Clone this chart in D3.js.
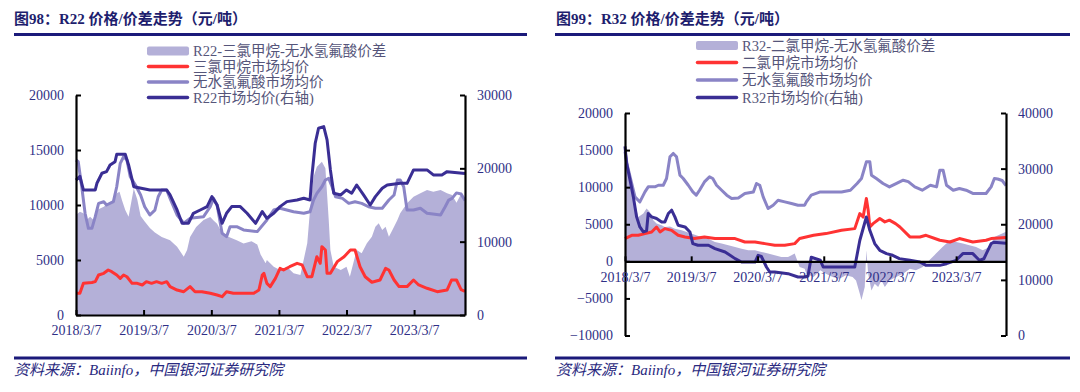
<!DOCTYPE html>
<html>
<head>
<meta charset="utf-8">
<script src="https://cdn.jsdelivr.net/npm/d3@7"></script>
<style>
	body { margin: 0; background: #fff; }
	svg text { font-family: "Liberation Serif", "Noto Sans CJK SC", serif; }
</style>
</head>
<body>
<svg id="chart" width="1080" height="392"></svg>
<script>
// ---- data ----

var dateStart = "2018-03-07";
var dateEnd = "2023-12-07";
var yearTicks = ["2018-03-07", "2019-03-07", "2020-03-07", "2021-03-07", "2022-03-07", "2023-03-07"];

// chart 98 : R22
var r22Titles = ["图98：R22 价格/价差走势（元/吨）"];
var r22Legend = ["R22-三氯甲烷-无水氢氟酸价差", "三氯甲烷市场均价", "无水氢氟酸市场均价", "R22市场均价(右轴)"];
var r22LeftTicks = [0, 5000, 10000, 15000, 20000];
var r22RightTicks = [0, 10000, 20000, 30000];

var r22Spread = [
	["2018-03-07", 9090], ["2018-03-28", 9390], ["2018-04-16", 9250], ["2018-05-04", 8640], ["2018-05-22", 8940],
	["2018-06-10", 8640], ["2018-06-28", 9540], ["2018-08-04", 9840], ["2018-08-28", 10150], ["2018-09-25", 10450],
	["2018-10-13", 11060], ["2018-10-28", 11210], ["2018-11-10", 10450], ["2018-11-28", 9540], ["2018-12-16", 8940],
	["2019-01-13", 11500], ["2019-02-01", 10500], ["2019-02-19", 9000], ["2019-03-13", 8500], ["2019-04-10", 7900],
	["2019-05-07", 7500], ["2019-06-13", 7100], ["2019-07-28", 6800], ["2019-09-04", 6200], ["2019-10-10", 5300],
	["2019-10-28", 5900], ["2019-11-13", 7100], ["2019-12-16", 8000], ["2020-01-25", 8640], ["2020-03-01", 8900],
	["2020-03-19", 8600], ["2020-04-07", 8300], ["2020-05-04", 7430], ["2020-06-10", 7100], ["2020-07-22", 6800],
	["2020-08-28", 6500], ["2020-10-10", 6700], ["2020-11-10", 6400], ["2020-11-28", 5500], ["2020-12-25", 4700],
	["2021-01-01", 5000], ["2021-02-07", 4390], ["2021-03-13", 4090], ["2021-04-19", 4390], ["2021-05-25", 3790],
	["2021-07-01", 3640], ["2021-08-07", 6520], ["2021-08-22", 9540], ["2021-09-10", 12570], ["2021-09-28", 13480],
	["2021-10-25", 13930], ["2021-11-13", 13330], ["2021-12-01", 8640], ["2021-12-10", 5910], ["2021-12-28", 4390],
	["2022-02-04", 4090], ["2022-03-07", 4390], ["2022-03-25", 3480], ["2022-05-01", 5910], ["2022-05-28", 5610],
	["2022-06-25", 6520], ["2022-07-22", 7120], ["2022-08-10", 8030], ["2022-08-28", 8340], ["2022-09-16", 7730],
	["2022-10-04", 8030], ["2022-10-22", 7120], ["2022-11-10", 7730], ["2022-12-07", 8640], ["2022-12-22", 9250],
	["2023-01-28", 10150], ["2023-03-04", 10750], ["2023-04-10", 11060], ["2023-05-16", 11360], ["2023-06-19", 11210],
	["2023-07-28", 11360], ["2023-09-01", 11060], ["2023-09-28", 10900], ["2023-10-22", 10200], ["2023-11-16", 11000],
	["2023-12-07", 10500]
];

var r22Chloroform = [
	["2018-03-07", 1970], ["2018-03-28", 1970], ["2018-04-16", 2880], ["2018-06-01", 2950], ["2018-06-19", 3030],
	["2018-07-07", 3640], ["2018-08-04", 3790], ["2018-08-28", 4090], ["2018-09-16", 3940], ["2018-10-13", 3640],
	["2018-11-01", 3330], ["2018-11-19", 3640], ["2018-12-07", 3480], ["2019-01-04", 2880], ["2019-02-01", 2880],
	["2019-02-28", 2730], ["2019-03-22", 3030], ["2019-04-19", 2880], ["2019-05-16", 3030], ["2019-06-13", 2880],
	["2019-07-10", 3030], ["2019-07-28", 2580], ["2019-09-04", 2270], ["2019-10-10", 2120], ["2019-11-13", 2580],
	["2019-12-10", 2120], ["2020-01-16", 2120], ["2020-03-01", 1970], ["2020-04-07", 1820], ["2020-05-04", 1670],
	["2020-05-28", 2120], ["2020-07-04", 1970], ["2020-08-28", 1970], ["2020-10-22", 1970], ["2020-11-19", 2270],
	["2020-12-07", 3640], ["2020-12-16", 3790], ["2021-01-01", 2880], ["2021-01-19", 2580], ["2021-02-16", 3330],
	["2021-03-13", 4240], ["2021-04-01", 4090], ["2021-05-04", 4390], ["2021-06-13", 4700], ["2021-07-10", 4550],
	["2021-08-07", 3480], ["2021-09-01", 3480], ["2021-09-28", 5300], ["2021-10-16", 4700], ["2021-10-25", 6210],
	["2021-11-13", 5910], ["2021-11-22", 3790], ["2021-12-10", 3790], ["2022-01-16", 4850], ["2022-02-22", 5300],
	["2022-03-28", 5910], ["2022-04-22", 5910], ["2022-05-19", 4390], ["2022-06-16", 3480], ["2022-07-22", 2980],
	["2022-09-04", 3180], ["2022-10-04", 4240], ["2022-10-22", 4090], ["2022-11-19", 3180], ["2022-12-16", 2580],
	["2023-01-28", 2580], ["2023-03-04", 3180], ["2023-04-01", 2730], ["2023-05-16", 2430], ["2023-07-10", 2120],
	["2023-09-01", 2270], ["2023-09-25", 3180], ["2023-10-22", 3180], ["2023-11-16", 2300], ["2023-12-07", 2150]
];

var r22Hf = [
	["2018-03-07", 14090], ["2018-03-19", 13930], ["2018-04-07", 11660], ["2018-04-25", 9250], ["2018-05-13", 7880],
	["2018-06-01", 7880], ["2018-06-19", 8940], ["2018-07-07", 10150], ["2018-08-04", 10300], ["2018-08-19", 10000],
	["2018-09-25", 10300], ["2018-10-13", 11660], ["2018-11-01", 13790], ["2018-11-19", 14390], ["2018-12-07", 14090],
	["2018-12-25", 12570], ["2019-01-22", 11820], ["2019-02-19", 10910], ["2019-03-13", 9840], ["2019-04-10", 9090],
	["2019-05-07", 9540], ["2019-05-25", 10750], ["2019-06-13", 11360], ["2019-07-10", 11360], ["2019-07-28", 10600],
	["2019-09-04", 9090], ["2019-10-10", 8340], ["2019-11-13", 8790], ["2020-01-25", 8940], ["2020-03-01", 9840],
	["2020-03-19", 10600], ["2020-04-07", 10000], ["2020-05-04", 7430], ["2020-05-28", 7120], ["2020-06-16", 8030],
	["2020-07-22", 8030], ["2020-08-28", 7730], ["2020-11-10", 7580], ["2021-01-01", 8640], ["2021-02-07", 9540],
	["2021-03-13", 9700], ["2021-05-25", 9390], ["2021-07-19", 9250], ["2021-08-22", 9390], ["2021-09-10", 10450],
	["2021-09-28", 11060], ["2021-10-25", 11660], ["2021-11-13", 12270], ["2021-12-01", 12420], ["2021-12-19", 11660],
	["2022-01-07", 10750], ["2022-02-13", 10600], ["2022-03-19", 10150], ["2022-04-22", 10300], ["2022-05-28", 10150],
	["2022-07-04", 9840], ["2022-08-10", 9700], ["2022-09-16", 9700], ["2022-10-22", 10450], ["2022-11-19", 10910],
	["2022-12-07", 12270], ["2022-12-22", 12270], ["2023-01-10", 11660], ["2023-01-28", 9540], ["2023-03-04", 9540],
	["2023-04-10", 9700], ["2023-05-16", 9250], ["2023-07-28", 9090], ["2023-08-22", 9840], ["2023-09-10", 10450],
	["2023-09-28", 10600], ["2023-10-22", 11100], ["2023-11-16", 11000], ["2023-12-07", 10400]
];

var r22Price = [
	["2018-03-07", 18400], ["2018-03-28", 18900], ["2018-04-16", 17050], ["2018-06-19", 17050], ["2018-06-28", 17960],
	["2018-07-25", 19330], ["2018-08-19", 19550], ["2018-09-07", 20460], ["2018-10-04", 20910], ["2018-10-13", 21920],
	["2018-11-28", 21920], ["2018-12-16", 20460], ["2019-01-13", 17500], ["2019-04-10", 17050], ["2019-07-10", 17050],
	["2019-07-28", 16370], ["2019-09-04", 14320], ["2019-10-01", 12500], ["2019-11-04", 12500], ["2019-12-01", 13870],
	["2020-01-07", 14320], ["2020-02-13", 14780], ["2020-03-10", 16140], ["2020-04-07", 15000], ["2020-05-04", 12500],
	["2020-05-28", 13870], ["2020-06-25", 14780], ["2020-08-10", 14780], ["2020-09-16", 13870], ["2020-11-01", 12500],
	["2020-12-07", 14100], ["2021-01-01", 13190], ["2021-02-07", 13870], ["2021-03-13", 14780], ["2021-04-19", 15460],
	["2021-06-13", 15690], ["2021-07-19", 15920], ["2021-08-22", 15690], ["2021-09-01", 18860], ["2021-09-19", 23420],
	["2021-10-07", 25470], ["2021-11-04", 25690], ["2021-11-22", 23870], ["2021-12-10", 19780], ["2021-12-28", 16600],
	["2022-02-04", 16370], ["2022-03-07", 17050], ["2022-04-04", 16600], ["2022-05-01", 17730], ["2022-06-07", 16370],
	["2022-07-13", 15000], ["2022-08-10", 16140], ["2022-09-16", 17280], ["2022-10-13", 17730], ["2022-12-22", 17960],
	["2023-01-28", 17960], ["2023-03-04", 19780], ["2023-05-16", 19780], ["2023-06-19", 19100], ["2023-08-04", 19100],
	["2023-09-01", 19550], ["2023-12-07", 19300]
];

// chart 99 : R32
var r32Titles = ["图99：R32 价格/价差走势（元/吨）"];
var r32Legend = ["R32-二氯甲烷-无水氢氟酸价差", "二氯甲烷市场均价", "无水氢氟酸市场均价", "R32市场均价(右轴)"];
var r32LeftTicks = [-10000, -5000, 0, 5000, 10000, 15000, 20000];
var r32RightTicks = [0, 10000, 20000, 30000, 40000];

var r32Spread = [
	["2018-03-07", 16500], ["2018-03-25", 12740], ["2018-04-13", 10500], ["2018-05-01", 7800], ["2018-05-19", 5990],
	["2018-06-16", 6440], ["2018-07-04", 7120], ["2018-07-22", 6660], ["2018-08-10", 5540], ["2018-08-28", 5090],
	["2018-09-25", 4860], ["2018-10-13", 4630], ["2018-11-10", 4700], ["2018-12-07", 4410], ["2019-01-13", 4180],
	["2019-02-10", 3960], ["2019-03-07", 3740], ["2019-04-04", 3510], ["2019-05-01", 3290], ["2019-06-07", 3070],
	["2019-07-16", 2610], ["2019-08-22", 2390], ["2019-09-28", 2160], ["2019-11-04", 1930], ["2019-12-10", 1700],
	["2020-01-16", 1490], ["2020-02-22", 1490], ["2020-03-28", 1270], ["2020-05-04", 1040], ["2020-06-10", 810],
	["2020-07-16", 580], ["2020-08-22", 580], ["2020-09-28", 1040], ["2020-10-25", -770], ["2020-11-22", -990],
	["2020-12-01", -1660], ["2021-01-10", -2120], ["2021-02-16", -1200], ["2021-03-19", -1660], ["2021-04-25", -2120],
	["2021-06-01", -2340], ["2021-07-07", -1890], ["2021-08-13", -2120], ["2021-09-01", -2570], ["2021-09-22", -4360],
	["2021-10-01", -5200], ["2021-10-19", -3470], ["2021-10-28", 1490], ["2021-11-07", -1660], ["2021-11-25", -3920],
	["2021-12-13", -3020], ["2022-01-01", -3470], ["2022-01-19", -2570], ["2022-02-07", -3470], ["2022-03-04", -2570],
	["2022-04-10", -2120], ["2022-05-19", -1660], ["2022-06-25", -1000], ["2022-07-28", -1200], ["2022-09-04", -770],
	["2022-10-10", 135], ["2022-11-16", 1040], ["2022-12-22", 1930], ["2023-02-01", 2840], ["2023-03-07", 2610],
	["2023-04-13", 2390], ["2023-05-19", 2160], ["2023-06-25", 1930], ["2023-08-01", 1490], ["2023-09-07", 1930],
	["2023-10-04", 3290], ["2023-12-07", 4000]
];

var r32Dcm = [
	["2018-03-07", 3070], ["2018-04-13", 3510], ["2018-05-19", 3510], ["2018-06-25", 3740], ["2018-08-01", 3960],
	["2018-08-28", 4630], ["2018-09-16", 3960], ["2018-10-13", 4410], ["2018-11-19", 4180], ["2018-12-25", 3510],
	["2019-02-01", 3290], ["2019-03-25", 3070], ["2019-05-19", 3290], ["2019-07-16", 3070], ["2019-11-04", 3070],
	["2019-12-28", 2610], ["2020-02-22", 2610], ["2020-04-16", 2390], ["2020-06-10", 2160], ["2020-08-04", 2160],
	["2020-09-28", 2390], ["2020-10-25", 3070], ["2021-01-10", 3510], ["2021-03-19", 3740], ["2021-06-13", 4190],
	["2021-08-25", 4410], ["2021-09-22", 6440], ["2021-10-10", 5970], ["2021-10-28", 8470], ["2021-11-07", 6890],
	["2021-11-16", 4630], ["2021-12-04", 5080], ["2022-01-10", 5770], ["2022-02-07", 5320], ["2022-03-04", 5550],
	["2022-04-07", 5080], ["2022-05-01", 4630], ["2022-06-25", 3290], ["2022-08-19", 3290], ["2022-09-22", 3510],
	["2022-12-07", 2840], ["2023-02-01", 2610], ["2023-03-25", 3070], ["2023-06-07", 2610], ["2023-08-19", 2840],
	["2023-09-16", 3070], ["2023-12-07", 3200]
];

var r32Hf = [
	["2018-03-07", 14800], ["2018-03-19", 13000], ["2018-05-01", 8690], ["2018-05-28", 8010], ["2018-06-25", 9360],
	["2018-07-13", 10040], ["2018-08-19", 10040], ["2018-09-07", 10260], ["2018-10-04", 10260], ["2018-10-22", 11170],
	["2018-11-10", 14090], ["2018-11-28", 14550], ["2018-12-16", 14090], ["2019-01-04", 11620], ["2019-01-22", 11170],
	["2019-02-19", 10260], ["2019-03-16", 9360], ["2019-04-04", 8920], ["2019-04-22", 9590], ["2019-05-19", 10710],
	["2019-06-16", 11390], ["2019-07-04", 11170], ["2019-07-25", 10260], ["2019-08-22", 9590], ["2019-09-19", 8920],
	["2019-10-16", 8470], ["2019-11-22", 8550], ["2019-12-28", 9150], ["2020-02-13", 9360], ["2020-03-01", 10490],
	["2020-03-19", 10260], ["2020-04-07", 8690], ["2020-05-04", 7120], ["2020-06-01", 7570], ["2020-06-28", 8240],
	["2020-08-04", 8020], ["2020-09-10", 7790], ["2020-10-16", 7570], ["2020-11-22", 7570], ["2020-12-01", 8010],
	["2020-12-28", 8920], ["2021-02-16", 9360], ["2021-06-13", 9360], ["2021-08-01", 9590], ["2021-09-07", 10490],
	["2021-10-01", 11170], ["2021-10-28", 13420], ["2021-11-16", 13420], ["2021-11-25", 11620], ["2021-12-22", 11170],
	["2022-01-28", 10490], ["2022-03-04", 10040], ["2022-04-10", 10490], ["2022-05-19", 10940], ["2022-06-16", 10750],
	["2022-07-22", 10040], ["2022-09-01", 9590], ["2022-10-16", 10260], ["2022-11-19", 10040], ["2022-12-07", 12290],
	["2022-12-25", 12290], ["2023-01-13", 10260], ["2023-02-19", 9590], ["2023-03-25", 9820], ["2023-05-01", 9590],
	["2023-06-07", 9150], ["2023-08-19", 9150], ["2023-09-16", 10040], ["2023-10-04", 11170], ["2023-10-22", 11100],
	["2023-11-16", 10900], ["2023-12-07", 10200]
];

var r32Price = [
	["2018-03-07", 34000], ["2018-03-16", 30940], ["2018-04-04", 27930], ["2018-04-22", 24920], ["2018-05-10", 21320],
	["2018-05-28", 19520], ["2018-06-16", 18620], ["2018-07-04", 18800], ["2018-07-13", 21930], ["2018-08-01", 21320],
	["2018-08-28", 21030], ["2018-09-25", 20420], ["2018-10-13", 20420], ["2018-11-01", 21930], ["2018-11-19", 22530],
	["2018-12-07", 21320], ["2018-12-25", 19820], ["2019-02-01", 19520], ["2019-02-28", 18620], ["2019-03-16", 16520],
	["2019-04-13", 16220], ["2019-06-10", 16220], ["2019-07-16", 15620], ["2019-09-10", 15020], ["2019-11-04", 13820],
	["2019-12-10", 13210], ["2020-02-22", 13210], ["2020-03-10", 14420], ["2020-03-28", 14200], ["2020-04-25", 12310],
	["2020-05-13", 11410], ["2020-06-10", 11410], ["2020-08-22", 11110], ["2020-10-16", 10510], ["2020-11-22", 10510],
	["2020-12-10", 10700], ["2020-12-28", 14070], ["2021-02-16", 13520], ["2021-03-04", 12310], ["2021-08-25", 12310],
	["2021-09-22", 17120], ["2021-10-28", 21300], ["2021-11-16", 18920], ["2021-12-13", 16520], ["2022-01-10", 15320],
	["2022-02-16", 14720], ["2022-03-22", 14420], ["2022-04-28", 13820], ["2022-06-25", 13520], ["2022-08-19", 13210],
	["2022-09-22", 12610], ["2022-12-07", 12610], ["2023-01-13", 12910], ["2023-03-07", 13520], ["2023-04-13", 14720],
	["2023-06-07", 14720], ["2023-07-13", 13520], ["2023-08-07", 13800], ["2023-09-16", 16520], ["2023-10-01", 16760],
	["2023-12-07", 16580]
];

// ---- styling ----
var colors = {
	spread: "#b4b0d8",
	red: "#ff3333",
	hf: "#8a84c6",
	price: "#3a2e94",
	rule: "#1b1a7a",
	title: "#1e1e6e",
	tick: "#2f2f86",
	legend: "#55557a",
	footer: "#2a2a80"
};

var parseDate = d3.timeParse("%Y-%m-%d");
var fmtDate = d3.timeFormat("%Y/%-m/%-d");
var svg = d3.select("#chart");

function toPoints(arr) {
	return arr.map(function(d) { return { date: parseDate(d[0]), value: d[1] }; });
}

function drawPanel(p) {
	var g = svg.append("g");

	var x = d3.scaleTime()
		.domain([parseDate(dateStart), parseDate(dateEnd)])
		.range([p.x0, p.x1]);
	var yL = d3.scaleLinear().domain(p.leftDomain).range([p.yBottom, p.yTop]);
	var yR = d3.scaleLinear().domain(p.rightDomain).range([p.yBottom, p.yTop]);

	// title and rules
	g.append("text")
		.attr("x", p.titleX).attr("y", 23.5)
		.attr("font-size", 15).attr("font-weight", "bold")
		.attr("fill", colors.title)
		.text(p.title);
	g.append("line")
		.attr("x1", p.ruleX0).attr("x2", p.ruleX1).attr("y1", 34.5).attr("y2", 34.5)
		.attr("stroke", colors.rule).attr("stroke-width", 3);
	g.append("line")
		.attr("x1", p.ruleX0).attr("x2", p.ruleX1).attr("y1", 358).attr("y2", 358)
		.attr("stroke", colors.rule).attr("stroke-width", 3);
	g.append("text")
		.attr("x", p.titleX).attr("y", 375)
		.attr("font-size", 15).attr("font-style", "italic")
		.attr("fill", colors.footer)
		.text("资料来源：Baiinfo，中国银河证券研究院");

	// spread area (left axis)
	var area = d3.area()
		.x(function(d) { return x(d.date); })
		.y0(yL(0))
		.y1(function(d) { return yL(d.value); });
	g.append("path").datum(toPoints(p.spread))
		.attr("d", area).attr("fill", colors.spread);

	// lines
	var lineL = d3.line()
		.x(function(d) { return x(d.date); })
		.y(function(d) { return yL(d.value); });
	var lineR = d3.line()
		.x(function(d) { return x(d.date); })
		.y(function(d) { return yR(d.value); });

	g.append("path").datum(toPoints(p.red))
		.attr("d", lineL).attr("fill", "none")
		.attr("stroke", colors.red).attr("stroke-width", 3).attr("stroke-linejoin", "round");
	g.append("path").datum(toPoints(p.hf))
		.attr("d", lineL).attr("fill", "none")
		.attr("stroke", colors.hf).attr("stroke-width", 3).attr("stroke-linejoin", "round");
	g.append("path").datum(toPoints(p.price))
		.attr("d", lineR).attr("fill", "none")
		.attr("stroke", colors.price).attr("stroke-width", 3).attr("stroke-linejoin", "round");

	// axes
	var axisLeft = d3.axisLeft(yL).tickValues(p.leftTicks)
		.tickSizeInner(-5).tickSizeOuter(0).tickPadding(12).tickFormat(d3.format("d"));
	var axisRight = d3.axisRight(yR).tickValues(p.rightTicks)
		.tickSizeInner(-5).tickSizeOuter(0).tickPadding(12).tickFormat(d3.format("d"));
	var axisBottom = d3.axisBottom(x).tickValues(yearTicks.map(parseDate))
		.tickSizeInner(-5).tickSizeOuter(0).tickPadding(p.xLabelPad).tickFormat(fmtDate);

	var gl = g.append("g").attr("transform", "translate(" + p.x0 + ",0)").call(axisLeft);
	var gr = g.append("g").attr("transform", "translate(" + p.x1 + ",0)").call(axisRight);
	var gb = g.append("g").attr("transform", "translate(0," + yL(0) + ")").call(axisBottom);

	[gl, gr, gb].forEach(function(a) {
		a.attr("font-family", null).attr("font-size", null);
		a.select(".domain").attr("stroke", "#000").attr("stroke-width", 2.2);
		a.selectAll(".tick line").attr("stroke", "#000").attr("stroke-width", 2);
		a.selectAll(".tick text").attr("fill", colors.tick).attr("font-size", 14);
	});

	// legend
	var lg = g.append("g");
	p.legend.forEach(function(label, i) {
		var cy = p.legendY[i];
		if (i === 0) {
			lg.append("rect")
				.attr("x", p.legendX).attr("y", cy - 4.5)
				.attr("width", 42).attr("height", 9).attr("rx", 2)
				.attr("fill", colors.spread);
		} else {
			lg.append("line")
				.attr("x1", p.legendX + 1.5).attr("x2", p.legendX + 40.5)
				.attr("y1", cy).attr("y2", cy)
				.attr("stroke", [null, colors.red, colors.hf, colors.price][i])
				.attr("stroke-width", 3.5).attr("stroke-linecap", "round");
		}
		lg.append("text")
			.attr("x", p.legendX + 46).attr("y", cy).attr("dy", "0.36em")
			.attr("font-size", 14.5).attr("fill", colors.legend)
			.text(label);
	});
}

// R22 panel
drawPanel({
	title: r22Titles[0],
	titleX: 14, ruleX0: 14, ruleX1: 527,
	x0: 76, x1: 465, yTop: 95, yBottom: 315,
	leftDomain: [0, 20000], rightDomain: [0, 30000],
	leftTicks: r22LeftTicks, rightTicks: r22RightTicks,
	xLabelPad: 10,
	spread: r22Spread, red: r22Chloroform, hf: r22Hf, price: r22Price,
	legend: r22Legend, legendX: 147, legendY: [51, 66.5, 82, 97.5]
});

// R32 panel
drawPanel({
	title: r32Titles[0],
	titleX: 556, ruleX0: 555, ruleX1: 1070,
	x0: 625, x1: 1006, yTop: 113, yBottom: 335.5,
	leftDomain: [-10000, 20000], rightDomain: [0, 40000],
	leftTicks: r32LeftTicks, rightTicks: r32RightTicks,
	xLabelPad: 11,
	spread: r32Spread, red: r32Dcm, hf: r32Hf, price: r32Price,
	legend: r32Legend, legendX: 696, legendY: [45.5, 62.5, 80, 97.5]
});
</script>
</body>
</html>
